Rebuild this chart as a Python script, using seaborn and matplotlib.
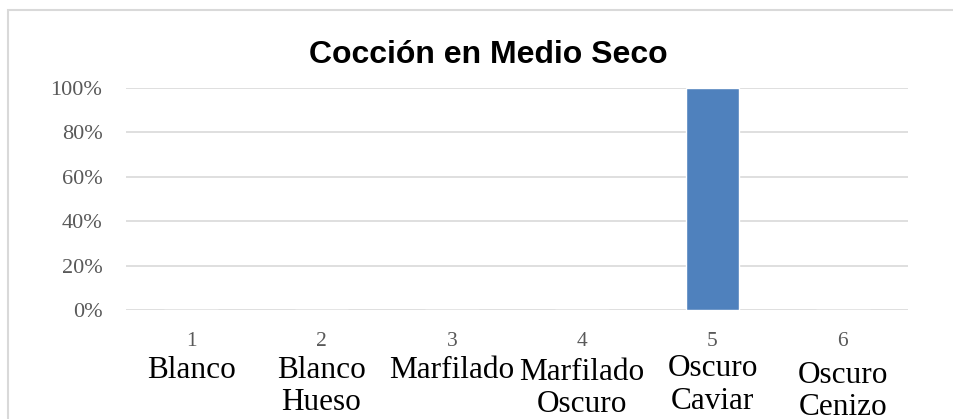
import matplotlib
matplotlib.use("Agg")
import matplotlib.pyplot as plt
import matplotlib.transforms as mtransforms
from matplotlib.patches import Rectangle
from matplotlib.ticker import PercentFormatter
import seaborn as sns
import pandas as pd

# data
numbers = ["1", "2", "3", "4", "5", "6"]
names = ["Blanco", "Blanco\nHueso", "Marfilado", "Marfilado\nOscuro", "Oscuro\nCaviar", "Oscuro\nCenizo"]
values = [0, 0, 0, 0, 1.0, 0]

df = pd.DataFrame({"num": numbers, "val": values})

sns.set_style("white")
plt.rcParams["font.family"] = ["Liberation Serif", "DejaVu Serif"]

fig = plt.figure(figsize=(9.54, 4.19), dpi=100)
ax = fig.add_axes([126 / 954, 1 - 310 / 419, (908 - 126) / 954, (310 - 88) / 419])

sns.barplot(data=df, x="num", y="val", color="#4f81bd", width=0.41,
            saturation=1, ax=ax, zorder=3)

ax.set_ylim(0, 1)
ax.set_yticks([0, 0.2, 0.4, 0.6, 0.8, 1.0])
ax.yaxis.set_major_formatter(PercentFormatter(1.0, decimals=0))
ax.grid(axis="y", color="#d9d9d9", linewidth=1.2, zorder=0)
ax.set_axisbelow(True)
for s in ax.spines.values():
    s.set_visible(False)
ax.tick_params(axis="both", length=0, colors="#595959")
ax.tick_params(axis="y", pad=17, labelsize=16)
ax.tick_params(axis="x", pad=16, labelsize=15.5)
ax.set_xlabel("")
ax.set_ylabel("")

# second level of category labels
trans = mtransforms.blended_transform_factory(ax.transData, ax.transAxes)
shift = [0, 0, 0, 0.009, -0.005, 0.023]
for i, name in enumerate(names):
    ax.text(i, -0.205 - shift[i], name, transform=trans, ha="center", va="top",
            fontsize=22.5, color="black", linespacing=1.15)

fig.text(488 / 954, 1 - 55 / 419, "Cocción en Medio Seco", ha="center", va="center",
         fontsize=23, fontweight="bold", color="black",
         family=["Liberation Sans", "DejaVu Sans"])

# chart border
fig.patches.append(Rectangle((8 / 954, -0.05), 1.1, 1 - 10 / 419 + 0.05,
                             transform=fig.transFigure, fill=False,
                             edgecolor="#d9d9d9", linewidth=1.5))

fig.savefig("out.png", dpi=100)
